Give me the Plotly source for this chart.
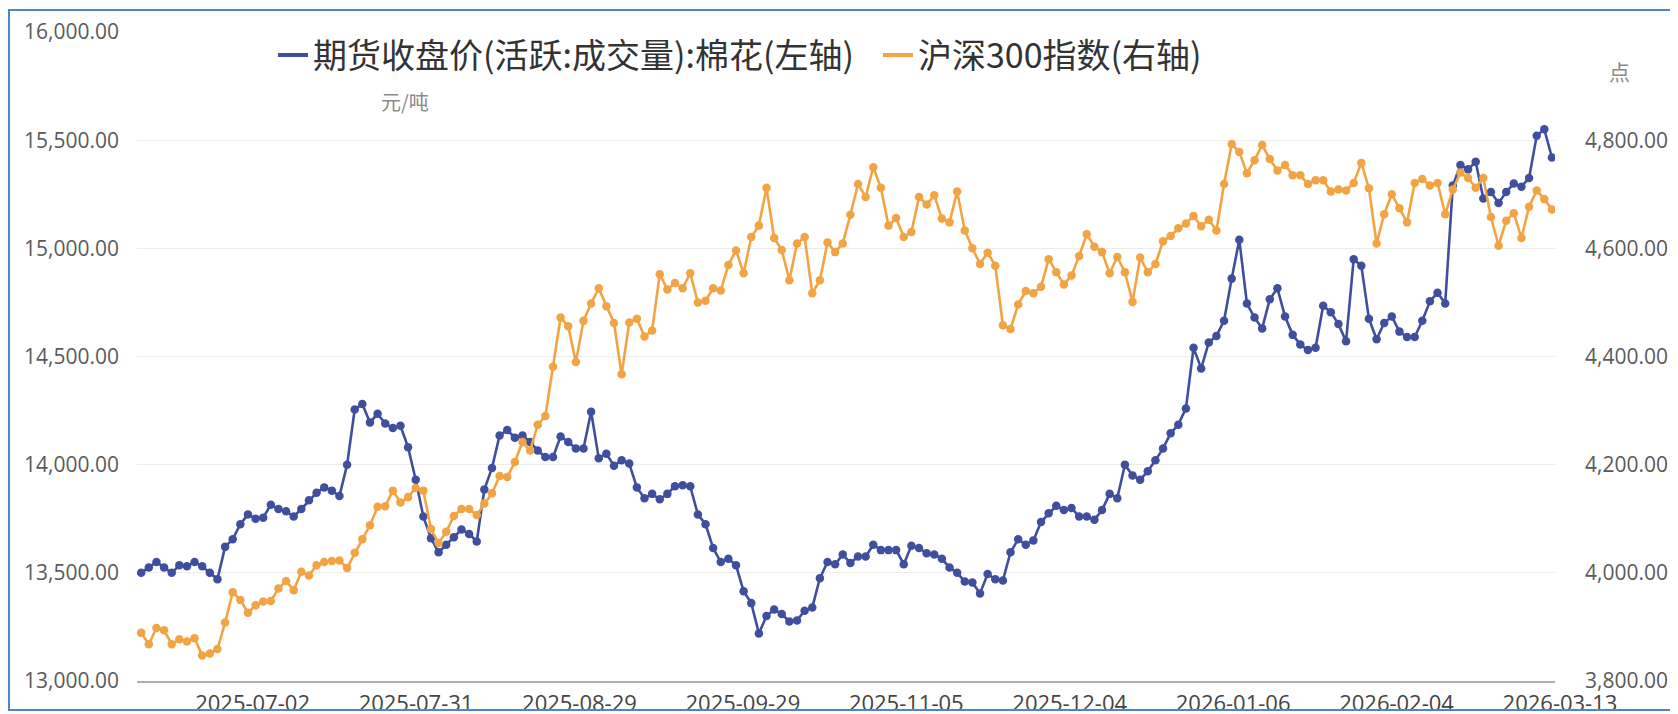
import plotly.graph_objects as go
import pandas as pd

# ---------------- data ----------------
holidays = ["2025-10-01", "2025-10-02", "2025-10-03", "2025-10-06", "2025-10-07", "2025-10-08",
            "2026-01-01", "2026-01-02",
            "2026-02-16", "2026-02-17", "2026-02-18", "2026-02-19", "2026-02-20", "2026-02-23"]
_days = pd.bdate_range("2025-06-09", "2026-03-13")
_days = _days[~_days.isin(pd.to_datetime(holidays))]
dates = [d.strftime("%Y-%m-%d") for d in _days]

tick_dates = ["2025-07-02", "2025-07-31", "2025-08-29", "2025-09-29", "2025-11-05",
              "2025-12-04", "2026-01-06", "2026-02-04", "2026-03-13"]

cotton = [
    13500, 13525, 13550, 13525, 13500, 13535, 13530, 13550, 13530, 13500,
    13470, 13620, 13655, 13725, 13770, 13750, 13755, 13815, 13795, 13785,
    13760, 13795, 13835, 13870, 13895, 13880, 13855, 14000, 14255, 14280,
    14195, 14235, 14190, 14170, 14180, 14080, 13930, 13760, 13660, 13595,
    13630, 13665, 13700, 13680, 13645, 13885, 13985, 14135, 14160, 14125,
    14135, 14105, 14065, 14035, 14035, 14130, 14105, 14075, 14075, 14245,
    14030, 14050, 13995, 14020, 14005, 13895, 13845, 13865, 13840, 13865,
    13900, 13905, 13900, 13770, 13725, 13615, 13550, 13565, 13535, 13415,
    13360, 13220, 13300, 13330, 13310, 13275, 13280, 13325, 13340, 13475,
    13550, 13540, 13585, 13545, 13575, 13575, 13630, 13605, 13605, 13605,
    13540, 13625, 13615, 13590, 13585, 13565, 13525, 13500, 13460, 13455,
    13405, 13495, 13470, 13465, 13595, 13655, 13630, 13650, 13735, 13775,
    13810, 13790, 13800, 13760, 13760, 13745, 13790, 13865, 13845, 14000,
    13950, 13930, 13970, 14020, 14075, 14145, 14185, 14260, 14540, 14445,
    14565, 14595, 14665, 14860, 15040, 14745, 14680, 14630, 14765, 14815,
    14685, 14600, 14555, 14530, 14540, 14735, 14705, 14650, 14570, 14950,
    14920, 14675, 14580, 14655, 14685, 14615, 14590, 14590, 14665, 14755,
    14795, 14745, 15290, 15385, 15365, 15400, 15230, 15260, 15210, 15260,
    15300, 15285, 15325, 15520, 15550, 15420,
]

csi300 = [
    3889, 3868, 3898, 3894, 3868, 3877, 3873, 3879, 3847, 3851,
    3859, 3908, 3964, 3950, 3926, 3940, 3947, 3948, 3971, 3985,
    3968, 4002, 3995, 4014, 4020, 4022, 4023, 4009, 4037, 4062,
    4088, 4122, 4123, 4152, 4130, 4140, 4157, 4152, 4081, 4055,
    4076, 4105, 4118, 4118, 4107, 4128, 4147, 4179, 4177, 4205,
    4242, 4226, 4274, 4290, 4381, 4472, 4456, 4390, 4466, 4498,
    4526, 4493, 4462, 4367, 4463, 4470, 4437, 4448, 4552, 4524,
    4536, 4526, 4554, 4500, 4503, 4526, 4522, 4569, 4596, 4554,
    4621, 4642, 4712, 4619, 4597, 4541, 4609, 4621, 4517, 4541,
    4611, 4593, 4609, 4662, 4719, 4695, 4750, 4712, 4642, 4656,
    4621, 4630, 4695, 4681, 4698, 4655, 4648, 4705, 4633, 4600,
    4571, 4592, 4568, 4458, 4451, 4496, 4521, 4517, 4529, 4580,
    4556, 4533, 4550, 4586, 4626, 4603, 4593, 4554, 4584, 4556,
    4501, 4583, 4556, 4571, 4613, 4623, 4637, 4646, 4660, 4641,
    4653, 4633, 4719, 4793, 4778, 4739, 4763, 4791, 4765, 4744,
    4754, 4735, 4735, 4719, 4726, 4726, 4705, 4709, 4707, 4721,
    4758, 4711, 4609, 4663, 4700, 4674, 4648, 4721, 4728, 4716,
    4721, 4663, 4709, 4740, 4730, 4712, 4730, 4658, 4605, 4651,
    4665, 4619, 4677, 4707, 4691, 4672,
]

left_ticks = [13000, 13500, 14000, 14500, 15000, 15500, 16000]
right_ticks = [3800, 4000, 4200, 4400, 4600, 4800]

name_cotton = "期货收盘价(活跃:成交量):棉花(左轴)"
name_csi = "沪深300指数(右轴)"

# ---------------- layout helpers ----------------
# The page body has an 8px margin, so the figure sits 8px right/down on screen.
OFF = 8
W, H = 1678, 714
L, R, T, B = 129, 131, 24, 41
pw, ph = W - L - R, H - T - B


def px(x):
    """screen x (px) -> paper x"""
    return (x - OFF - L) / pw


def py(y):
    """screen y (px) -> paper y"""
    return (H - B - (y - OFF)) / ph


# date labels are spread evenly, the last one sitting on the last point
n = len(dates)
label_step = 21.43
tick_pos = [(n - 1) - (len(tick_dates) - 1 - k) * label_step for k in range(len(tick_dates))]

BLUE = "#3f4f9e"
ORANGE = "#f2a444"
CJK = "Noto Sans CJK SC"
NUM = "Open Sans"

fig = go.Figure()
fig.add_trace(go.Scatter(x=dates, y=cotton, mode="lines+markers", showlegend=False,
                         line=dict(color=BLUE, width=2.6), marker=dict(size=8.5, color=BLUE),
                         yaxis="y"))
fig.add_trace(go.Scatter(x=dates, y=csi300, mode="lines+markers", showlegend=False,
                         line=dict(color=ORANGE, width=2.6), marker=dict(size=8.5, color=ORANGE),
                         yaxis="y2"))
# legend entries (plain line symbols)
fig.add_trace(go.Scatter(x=[None], y=[None], mode="lines", name=name_cotton,
                         line=dict(color=BLUE, width=4), yaxis="y", legendwidth=560))
fig.add_trace(go.Scatter(x=[None], y=[None], mode="lines", name=name_csi,
                         line=dict(color=ORANGE, width=4), yaxis="y2", legendwidth=300))

fig.update_layout(
    width=W, height=H,
    margin=dict(l=L, r=R, t=T, b=B, pad=0, autoexpand=False),
    paper_bgcolor="white", plot_bgcolor="white",
    font=dict(family=NUM, size=21, color="#555555"),
    showlegend=True,
    legend=dict(orientation="h", xref="container", yref="container",
                x=265 / W, xanchor="left", y=1 - 18.5 / H, yanchor="top",
                bgcolor="white", font=dict(family=CJK, size=34, color="#333333"),
                itemwidth=30, itemclick=False),
    xaxis=dict(type="category", categoryorder="array", categoryarray=dates,
               tickmode="array", tickvals=tick_pos, ticktext=tick_dates,
               range=[-0.55, n - 0.6], showgrid=False, zeroline=False, automargin=False,
               showline=True, linecolor="#a8b0c0", linewidth=2, ticks="",
               tickfont=dict(family=NUM, size=22, color="#444444"),
               ticklabelstandoff=2, ticklabelshift=8),
    yaxis=dict(range=[13000, 16000], tickmode="array", tickvals=left_ticks,
               tickformat=",.2f", showgrid=True, gridcolor="#ececec", gridwidth=1,
               zeroline=False, showline=False, ticks="", automargin=False,
               tickfont=dict(family=NUM, size=21, color="#5a5a5a"),
               ticklabelstandoff=17),
    yaxis2=dict(range=[3800, 5000], overlaying="y", side="right", tickmode="array",
                tickvals=right_ticks, tickformat=",.2f", showgrid=False, zeroline=False,
                showline=False, ticks="", automargin=False,
                tickfont=dict(family=NUM, size=21, color="#5a5a5a"),
                ticklabelstandoff=29),
    annotations=[
        dict(text="元/吨", xref="paper", yref="paper", x=px(405), y=py(102),
             xanchor="center", yanchor="middle", showarrow=False,
             font=dict(family=CJK, size=20, color="#8a8a8a")),
        dict(text="点", xref="paper", yref="paper", x=px(1619), y=py(71),
             xanchor="center", yanchor="middle", showarrow=False,
             font=dict(family=CJK, size=21, color="#8a8a8a")),
    ],
    shapes=[
        dict(type="rect", xref="paper", yref="paper", x0=px(9), x1=px(1672),
             y0=py(710), y1=py(10), line=dict(color="#4a86c8", width=2),
             fillcolor="rgba(0,0,0,0)", layer="above"),
    ],
)

fig.write_html("out.html", config={"displayModeBar": False})
